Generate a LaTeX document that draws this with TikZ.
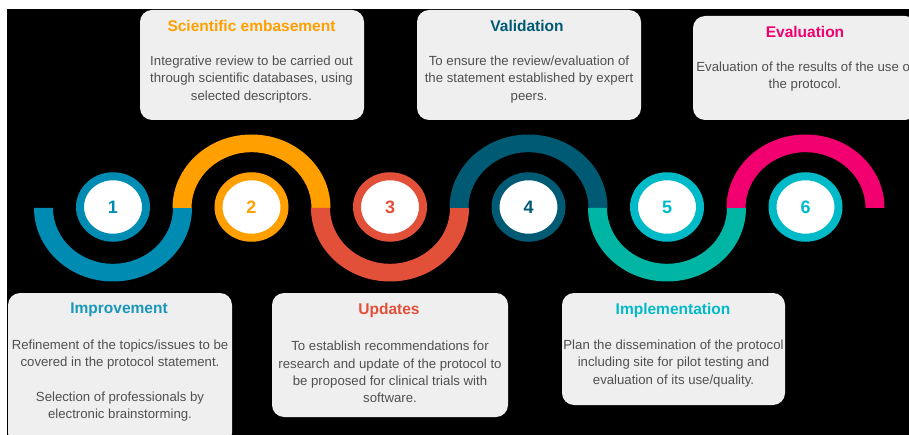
\documentclass[tikz,border=0pt]{standalone}
\usepackage{fontspec}
\setmainfont{Liberation Sans}
\usetikzlibrary{shapes.geometric}

\definecolor{cblue}{HTML}{008BB3}
\definecolor{corange}{HTML}{FF9F00}
\definecolor{cred}{HTML}{E2503A}
\definecolor{cdeep}{HTML}{005A73}
\definecolor{cgreen}{HTML}{00B5A3}
\definecolor{ccyan}{HTML}{00BAC8}
\definecolor{cpink}{HTML}{F2006F}
\definecolor{cardgray}{HTML}{EFEFEF}
\definecolor{bodygray}{HTML}{505050}

% half-ring of the wave below / above the mid line (centre x, colour)
\newcommand\waveDown[2]{%
  \fill[#2] ({#1-79},208) arc[start angle=180,end angle=0,x radius=79,y radius=73.5]
    -- ({#1+60},208) arc[start angle=0,end angle=180,x radius=60,y radius=55.8] -- cycle;}
\newcommand\waveUp[2]{%
  \fill[#2] ({#1-79},208) arc[start angle=180,end angle=360,x radius=79,y radius=73.5]
    -- ({#1+60},208) arc[start angle=360,end angle=180,x radius=60,y radius=55.8] -- cycle;}

\begin{document}
\begin{tikzpicture}[x=1pt,y=-1pt,
  card/.style={fill=cardgray, rounded corners=12pt, inner sep=0pt, draw=none},
  cardtitle/.style={font=\fontsize{15.5}{18}\selectfont\bfseries, inner sep=0pt},
  cardbody/.style={font=\fontsize{13.2}{17.3}\selectfont, text=bodygray, align=center, inner sep=0pt},
  stepring/.style={ellipse, draw=#1, line width=8pt, fill=white,
    minimum width=66pt, minimum height=61.5pt, inner sep=0pt, text=#1,
    font=\fontsize{18}{18}\selectfont\bfseries}]
\useasboundingbox (0,0) rectangle (909,435);
\clip (0,0) rectangle (909,435);
\fill[white] (0,0) rectangle (909,435);
\fill[black] (7,9) rectangle (909,435);

% the wave
\waveDown{113}{cblue}
\waveUp{251.5}{corange}
\waveDown{390}{cred}
\waveUp{528.5}{cdeep}
\waveDown{667}{cgreen}
\waveUp{805.5}{cpink}

% numbered steps
\node[stepring=cblue]   (s1) at (113,207)   {1};
\node[stepring=corange] (s2) at (251.5,207) {2};
\node[stepring=cred]    (s3) at (390,207)   {3};
\node[stepring=cdeep]   (s4) at (528.5,207) {4};
\node[stepring=ccyan]   (s5) at (667,207)   {5};
\node[stepring=ccyan]   (s6) at (805.5,207) {6};

% cards
\node[card, minimum width=224pt, minimum height=152pt] (b1) at (120,369) {};
\node[cardtitle, text=cblue!90!white] (t1) at (119,310) {Improvement};
\node[cardbody] (d1) at (120,380.5) {Refinement of the topics/issues to be\\covered in the protocol statement.\\[17.3pt]Selection of professionals by\\electronic brainstorming.};

\node[card, minimum width=224pt, minimum height=110pt] (b2) at (252,65) {};
\node[cardtitle, text=corange] (t2) at (251.5,26) {Scientific embasement};
\node[cardbody] (d2) at (251.5,79.5) {Integrative review to be carried out\\through scientific databases, using\\selected descriptors.};

\node[card, minimum width=236pt, minimum height=124pt] (b3) at (390,355) {};
\node[cardtitle, text=cred] (t3) at (389,310) {Updates};
\node[cardbody] (d3) at (390,372) {To establish recommendations for\\research and update of the protocol to\\be proposed for clinical trials with\\software.};

\node[card, minimum width=224pt, minimum height=110pt] (b4) at (529,65) {};
\node[cardtitle, text=cdeep] (t4) at (527,26) {Validation};
\node[cardbody] (d4) at (529,79.5) {To ensure the review/evaluation of\\the statement established by expert\\peers.};

\node[card, minimum width=223pt, minimum height=112pt] (b5) at (673.5,349) {};
\node[cardtitle, text=ccyan] (t5) at (673,310) {Implementation};
\node[cardbody] (d5) at (673.5,363.5) {Plan the dissemination of the protocol\\including site for pilot testing and\\evaluation of its use/quality.};

\node[card, minimum width=224pt, minimum height=104pt] (b6) at (805,68) {};
\node[cardtitle, text=cpink] (t6) at (805,32) {Evaluation};
\node[cardbody] (d6) at (805,76.5) {Evaluation of the results of the use of\\the protocol.};
\end{tikzpicture}
\end{document}
